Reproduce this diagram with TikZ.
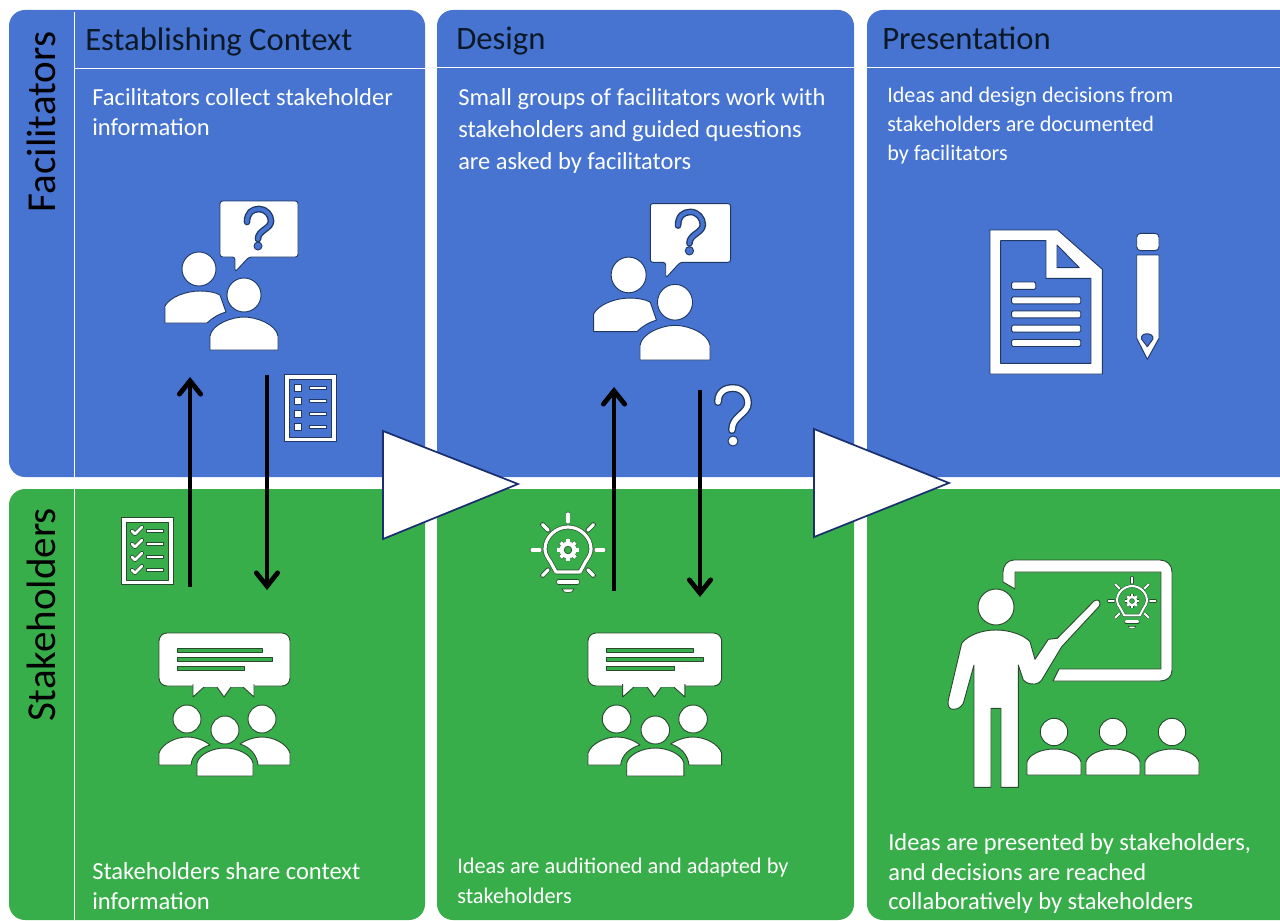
\documentclass[tikz,border=0pt]{standalone}
\usepackage{fontspec}
\setmainfont{Carlito}
\usetikzlibrary{arrows.meta}
\definecolor{panelblue}{HTML}{4674D0}
\definecolor{panelgreen}{HTML}{38AE4A}
\definecolor{blueline}{HTML}{1F3864}
\definecolor{greenline}{HTML}{2A4A30}
\definecolor{titleink}{HTML}{0C1826}
\definecolor{trinavy}{HTML}{1B2F70}
\colorlet{ic}{blueline}
\colorlet{bg}{panelblue}
% double stroke: dark outline, white core
\newcommand\dbl[3]{\draw[ic,line width=#1,line cap=round,line join=round] #3; \draw[white,line width=#2,line cap=round,line join=round] #3;}
\newcommand\dblbg[3]{\draw[ic,line width=#1,line cap=round,line join=round] #3; \draw[bg,line width=#2,line cap=round,line join=round] #3;}
\newcommand\bulbat[3]{\begin{scope}[shift={(#1,#2)},scale=#3]
  \def\bs{#3}
  \dbl{\bs*3.4pt}{\bs*2.4pt}{(-12,22) -- (-18,11) .. controls (-21,7) and (-23,3) .. (-23,-1) .. controls (-23,-13) and (-12,-23) .. (0,-23) .. controls (12,-23) and (23,-13) .. (23,-1) .. controls (23,3) and (21,7) .. (18,11) -- (12,22) -- cycle}
  \foreach \a in {0,45,135,180,225,270,315}{
    \dbl{\bs*3.6pt}{\bs*2.4pt}{({28*cos(\a)},{28*sin(\a)}) -- ({36*cos(\a)},{36*sin(\a)})}}
  \dbl{\bs*4.4pt}{\bs*3.4pt}{(-9,32) -- (9,32)}
  \path[fill=white,draw=ic,line width=\bs*.5pt] (-6,39) -- (6,39) .. controls (5,44) and (-5,44) .. (-6,39) -- cycle;
  \foreach \a in {0,45,...,315}{\draw[ic,line width=\bs*3.6pt] ({5*cos(\a)},{5*sin(\a)}) -- ({11*cos(\a)},{11*sin(\a)});}
  \foreach \a in {0,45,...,315}{\draw[white,line width=\bs*2.8pt] ({5*cos(\a)},{5*sin(\a)}) -- ({10.6*cos(\a)},{10.6*sin(\a)});}
  \path[fill=white] (0,0) circle [radius=8.4];
  \path[fill=bg,draw=ic,line width=\bs*.5pt] (0,0) circle [radius=3.8];
\end{scope}}
\tikzset{
  x=0.75pt,y=-0.75pt,
  icon/.style={fill=white,draw=ic,line width=0.7pt,line join=round},
  hole/.style={fill=bg,draw=ic,line width=0.7pt,line join=round},
  panelB/.style={fill=panelblue,rounded corners=12pt},
  panelG/.style={fill=panelgreen,rounded corners=12pt},
  rule/.style={draw=white,line width=0.7pt},
  flow/.style={draw=black,line width=3.6pt,-{Straight Barb[length=10pt,width=16pt,line cap=round,line width=3.6pt]}},
  gate/.style={fill=white,draw=trinavy,line width=1.3pt,line join=miter},
  title/.style={anchor=base west,inner sep=0pt,text=titleink,font=\fontsize{24.5pt}{28pt}\selectfont},
  side/.style={anchor=base,inner sep=0pt,rotate=90,text=black,font=\fontsize{30.8pt}{34pt}\selectfont},
  body/.style={anchor=north west,inner sep=0pt,text=white,align=left,font=\fontsize{18.4pt}{22.5pt}\selectfont},
  twopeople/.pic={
    \begin{scope}[shift={(-244,-350)}]
      \path[icon] (199,269) circle [radius=17];
      \path[icon] (165,323) -- (165,306) .. controls (170,297) and (186,291) .. (200,291) .. controls (207,291) and (215,292) .. (220,295) -- (226,312) .. controls (219,314) and (212,318) .. (207,323) -- cycle;
      \path[icon] (244,295) circle [radius=17];
      \path[icon] (210,350) -- (210,336) .. controls (212,324) and (232,317) .. (244,317) .. controls (256,317) and (276,324) .. (278,336) -- (278,350) -- cycle;
      \path[icon,rounded corners=2pt] (220,201) -- (298,201) -- (298,257) -- (249,257) -- (235,272) -- (235,257) -- (220,257) -- cycle;
      \dblbg{5pt}{3pt}{(247,222) .. controls (247,213) and (252,209) .. (259,209) .. controls (266,209) and (271,215) .. (271,221) .. controls (271,229) and (258,230) .. (258,239)}
      \path[hole] (258,246) circle [radius=4];
    \end{scope}},
  listframe/.pic={
    \path[icon,even odd rule] (0,0) rectangle (52,67) (5,5) rectangle (47,63);
    \foreach \yy in {14,27,40,53}{\path[icon,line width=.5pt] (25,\yy-1.6) rectangle (42,\yy+1.6);}
  },
  tickbox/.pic={\path[icon,line width=.5pt] (-3.5,-3.5) rectangle (3.5,3.5);},
  tickmark/.pic={\dbl{3pt}{1.9pt}{(-5,0) -- (-2,3) -- (5,-4)}},
  bubblecrowd/.pic={
    \begin{scope}[shift={(-159,-633)}]
      \path[icon,rounded corners=6pt] (159,633) -- (290,633) -- (290,686) -- (159,686) -- cycle;
      \path[icon] (193,684) -- (193,697) -- (204,687) -- (217,687) -- (224,697) -- (231,687) -- (243,687) -- (254,697) -- (254,684);
      \path[fill=white] (194,683) rectangle (253,687);
      \path[hole,line width=.5pt] (177,648) rectangle (262,652);
      \path[hole,line width=.5pt] (177,657) rectangle (272,661);
      \path[hole,line width=.5pt] (177,666) rectangle (244,670);
      \path[icon] (187,719) circle [radius=14];
      \path[icon] (262,719) circle [radius=14];
      \path[icon] (225,730) circle [radius=14];
      \path[icon] (159,765) -- (159,753) .. controls (162,744) and (175,737) .. (187,737) .. controls (195,737) and (204,740) .. (210,745) .. controls (200,748) and (192,755) .. (191,765) -- cycle;
      \path[icon] (290,765) -- (290,753) .. controls (287,744) and (274,737) .. (262,737) .. controls (254,737) and (246,740) .. (240,744) .. controls (250,747) and (257,755) .. (258,765) -- cycle;
      \path[icon] (197,776) -- (197,763) .. controls (199,754) and (213,748) .. (225,748) .. controls (237,748) and (251,754) .. (253,763) -- (253,776) -- cycle;
    \end{scope}},
  student/.pic={
    \path[icon] (0,0) circle [radius=13.7];
    \path[icon] (-27,43) -- (-27,30) .. controls (-25,22) and (-12,17) .. (0,17) .. controls (12,17) and (25,22) .. (27,30) -- (27,43) -- cycle;
  }
}
\begin{document}
\begin{tikzpicture}
\useasboundingbox (0,0) rectangle (1280,920);
\clip (0,0) rectangle (1280,920);
\fill[white] (0,0) rectangle (1280,920);
% panels
\path[panelB] (9,10) rectangle (425,477);
\path[panelG] (9,489) rectangle (425,920);
\path[panelB] (437,10) rectangle (854,477);
\path[panelG] (437,489) rectangle (854,920);
\path[panelB] (867,10) rectangle (1300,477);
\path[panelG] (867,489) rectangle (1300,920);
% rules
\draw[rule] (74,12) -- (74,920);
\draw[rule] (74,68) -- (425,68);
\draw[rule] (437,67) -- (854,67);
\draw[rule] (867,67) -- (1280,67);
% side labels
\node[side] (sideF) at (55.5,122) {Facilitators};
\node[side] (sideS) at (55.5,615) {Stakeholders};
% titles
\node[title] (t1) at (85,51) {Establishing Context};
\node[title] (t2) at (456,50) {Design};
\node[title] (t3) at (882,50) {Presentation};
% texts
\node[body] (b1) at (92,88) {Facilitators collect stakeholder\\information};
\node[body,font=\fontsize{18.35pt}{24pt}\selectfont] (b2) at (458,88) {Small groups of facilitators work with\\stakeholders and guided questions\\are asked by facilitators};
\node[body,font=\fontsize{16.6pt}{21.8pt}\selectfont] (b3) at (887,87) {Ideas and design decisions from\\stakeholders are documented\\by facilitators};
\node[body] (b4) at (92,862) {Stakeholders share context\\information};
\node[body,font=\fontsize{16.75pt}{22pt}\selectfont] (b5) at (457,858) {Ideas are auditioned and adapted by\\stakeholders};
\node[body,font=\fontsize{18.35pt}{22.3pt}\selectfont] (b6) at (888,833) {Ideas are presented by stakeholders,\\and decisions are reached\\collaboratively by stakeholders};
% blue icons
\pic at (244,350) {twopeople};
\pic[xscale=1.03,yscale=1.05] at (675,360) {twopeople};
\pic at (284,374) {listframe};
\foreach \yy in {14,27,40,53}{\pic at (298,374+\yy) {tickbox};}
% document
\path[icon,even odd rule] (990,230) -- (1057.7,230) -- (1102.3,269.3) -- (1102.3,374) -- (990,374) -- cycle
  (1000.7,240.7) -- (1046,240.7) -- (1046,278.3) -- (1091,278.3) -- (1091,363.3) -- (1000.7,363.3) -- cycle
  (1057,245) -- (1057,267.7) -- (1079.3,267.7) -- cycle;
\path[icon,rounded corners=1pt] (1011.7,282) rectangle (1035.7,289.3);
\foreach \yy in {300.3,314.3,328.7,343}{\path[icon,rounded corners=1pt] (1011.7,\yy-3.5) rectangle (1080.7,\yy+3.5);}
% pencil
\path[icon,rounded corners=3pt] (1136.7,250.7) -- (1136.7,233.3) -- (1159,233.3) -- (1159,250.7) -- cycle;
\path[icon] (1136.7,255) -- (1159,255) -- (1159,338.3) -- (1147.3,359.3) -- (1136.7,338.3) -- cycle;
\path[hole] (1147.3,346.7) -- (1141.5,339) .. controls (1140,332) and (1154,332) .. (1153,339) -- cycle;
% question mark (design)
\dbl{6pt}{4pt}{(718,402) .. controls (718,392) and (725,388) .. (733,388) .. controls (742,388) and (748,395) .. (748,403) .. controls (748,414) and (732,416) .. (732,430)}
\path[icon] (733,441) circle [radius=5];
% green icons
\begin{scope}
\colorlet{ic}{greenline}\colorlet{bg}{panelgreen}
\pic at (121,517) {listframe};
\foreach \yy in {14,27,40,53}{\pic at (137,517+\yy) {tickmark};}
\pic at (159,633) {bubblecrowd};
\pic[xscale=1.02,yscale=1.0] at (588,633) {bubblecrowd};
\bulbat{568}{550}{1}
% teacher
\path[icon] (1003,582) -- (1003,572) .. controls (1003,565) and (1008,560) .. (1014,560) -- (1160,560) .. controls (1167,560) and (1172,565) .. (1172,572) -- (1172,670) .. controls (1172,677) and (1167,681) .. (1160,681) -- (1053,681) -- (1059,669) -- (1161,669) -- (1161,572) -- (1015,572) -- (1015,589) -- cycle;
\path[icon] (996,607) circle [radius=18];
\path[icon] (996,630) .. controls (982,630) and (968,635) .. (961.7,643.3) -- (948.3,700) .. controls (947,707) and (950,709.3) .. (953.3,709.3) .. controls (958,709.3) and (961,707) .. (963.3,703.3) -- (974,665) -- (974,787.3) -- (991,787.3) -- (991,708.3) -- (1001,708.3) -- (1001,787.3) -- (1018.3,787.3) -- (1018.3,665) -- (1023.3,680) .. controls (1027,684) and (1031,684) .. (1035,684) .. controls (1038,684) and (1040,682) .. (1041.7,680) -- (1061.7,646.7) -- (1099,606.5) .. controls (1102,602) and (1098,598) .. (1094,601) -- (1057.3,638.3) -- (1048.3,639.3) -- (1035,659.3) -- (1030,641.7) .. controls (1024,635) and (1010,630) .. (996,630) -- cycle;
\bulbat{1132}{601}{0.65}
\pic at (1054,732) {student};
\pic at (1113,732) {student};
\pic at (1172,732) {student};
\end{scope}
% connectors
\coordinate (u1s) at (190,587); \coordinate (u1e) at (190,377);
\coordinate (d1s) at (267,375); \coordinate (d1e) at (267,590);
\coordinate (u2s) at (614,591); \coordinate (u2e) at (614,387);
\coordinate (d2s) at (700,390); \coordinate (d2e) at (700,597);
\draw[flow] (u1s) -- (u1e);
\draw[flow] (d1s) -- (d1e);
\draw[flow] (u2s) -- (u2e);
\draw[flow] (d2s) -- (d2e);
% gates
\path[gate] (383,431) -- (518,484) -- (383,539) -- cycle;
\path[gate] (814,429) -- (949,483) -- (814,537) -- cycle;
\end{tikzpicture}
\end{document}
